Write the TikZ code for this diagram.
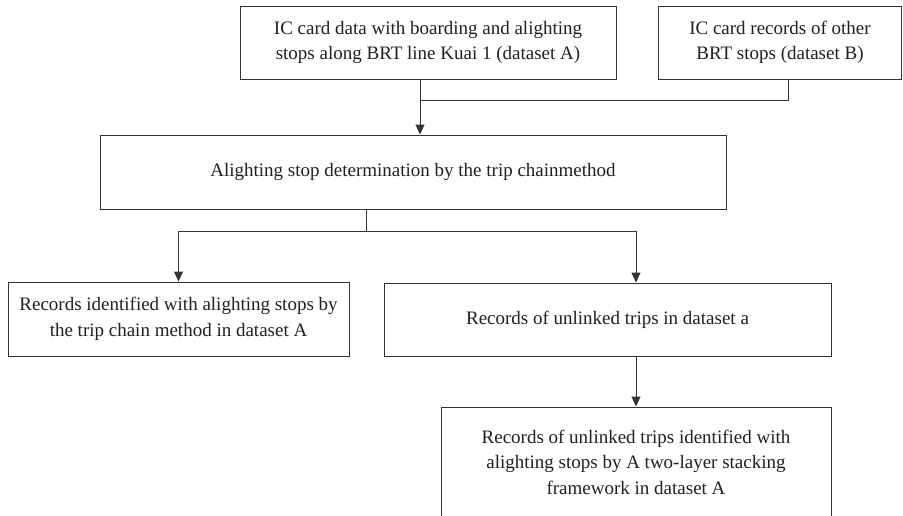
\documentclass[tikz,border=0pt]{standalone}
\usepackage{fontspec}
\setmainfont{Liberation Serif}
\usetikzlibrary{arrows.meta, positioning}
\definecolor{boxgray}{HTML}{333333}
\definecolor{textblack}{HTML}{231F20}
\tikzset{
    box/.style={draw=boxgray, line width=1pt, align=center, inner sep=0pt, text=textblack, font=\fontsize{19}{25.5}\selectfont},
    link/.style={draw=boxgray, line width=1pt},
    flow/.style={link, -{Triangle[length=10pt,width=9pt]}}
}

\begin{document}
\begin{tikzpicture}[x=1pt, y=-1pt]
            \clip (0,0) rectangle (903,515);
            \node[box, minimum width=376pt, minimum height=73pt] (cardA) at (428,42.5) {IC card data with boarding and alighting\\stops along BRT line Kuai 1 (dataset A)};
            \node[box, minimum width=243pt, minimum height=73pt] (cardB) at (780,42.5) {IC card records of other\\BRT stops (dataset B)};
            \node[box, minimum width=626pt, minimum height=74pt] (chain) at (413,172) {Alighting stop determination by the trip chainmethod};
            \node[box, minimum width=341pt, minimum height=74pt] (linked) at (178.5,319) {Records identified with alighting stops by\\the trip chain method in dataset A};
            \node[box, minimum width=447pt, minimum height=73pt] (unlinked) at (607.5,319.5) {Records of unlinked trips in dataset a};
            \node[box, minimum width=390pt, minimum height=110pt] (stacked) at (636,462) {Records of unlinked trips identified with\\alighting stops by A two-layer stacking\\framework in dataset A};
            \coordinate (merge) at (420,100);
            \coordinate (bdrop) at (788,100);
            \coordinate (split) at (366,231);
            \coordinate (left) at (178.5,231);
            \coordinate (right) at (636,231);
            \draw[link] (cardB.south -| bdrop) -- (bdrop) -- (merge);
            \draw[flow] (cardA.south -| merge) -- (chain.north -| merge);
            \draw[link] (chain.south -| split) -- (split);
            \draw[link] (left) -- (right);
            \draw[flow] (left) -- (linked.north);
            \draw[flow] (right) -- (unlinked.north -| right);
            \draw[flow] (unlinked.south -| stacked.north) -- (stacked.north);
        \end{tikzpicture}
\end{document}
